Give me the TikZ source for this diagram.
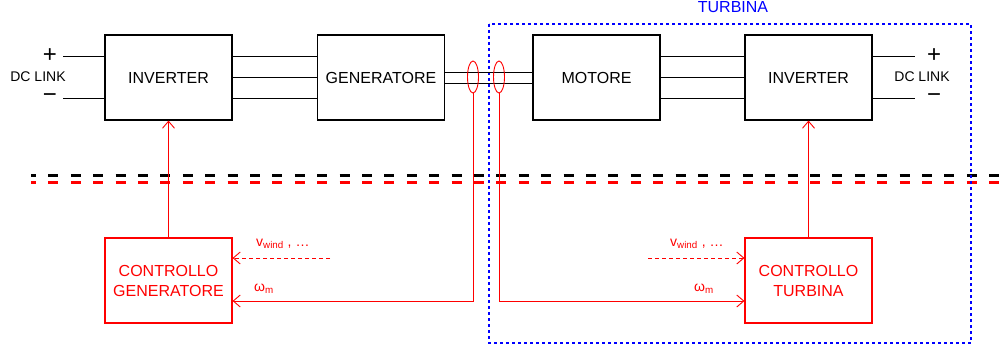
\documentclass[tikz,border=0pt]{standalone}
\usepackage{fontspec}
\setmainfont{Liberation Sans}
\usetikzlibrary{arrows.meta,calc}
\definecolor{pred}{RGB}{255,0,0}
\definecolor{pblue}{RGB}{0,0,255}
\tikzset{
  blk/.style={draw=black, line width=1.1pt, minimum width=127pt, minimum height=85pt, inner sep=0pt, font=\fontsize{16}{20}\selectfont, align=center},
  rblk/.style={blk, draw=pred, text=pred},
  wire/.style={draw=black, line width=0.9pt},
  rwire/.style={draw=pred, line width=0.9pt},
  rarrow/.style={rwire, -{Straight Barb[length=7pt,width=12pt,line width=0.9pt]}},
  rdash/.style={rarrow, dash pattern=on 4pt off 3pt},
  sep/.style={line width=3pt, dash pattern=on 10pt off 12.4pt, dash phase=5pt},
  lbl/.style={font=\fontsize{14}{16}\selectfont, inner sep=0pt},
  sgn/.style={font=\fontsize{24}{24}\selectfont, inner sep=0pt},
}
\begin{document}
\begin{tikzpicture}[x=1pt,y=-1pt]
\useasboundingbox (0,0) rectangle (1001,350);
% separators
\draw[sep, black] (31,175) -- (1001,175);
\draw[sep, pred] (31,182) -- (1001,182);
% turbine frame
\draw[pblue, line width=2pt, dash pattern=on 3pt off 3pt] (489,24) rectangle (971,343);
\node[text=pblue, font=\fontsize{16}{18}\selectfont, inner sep=0pt] (tt) at (733,7) {TURBINA};
% boxes
\node[blk] (inv1) at (168.5,77.5) {INVERTER};
\node[blk] (gen) at (381,77.5) {GENERATORE};
\node[blk] (mot) at (596.5,77.5) {MOTORE};
\node[blk] (inv2) at (808.5,77.5) {INVERTER};
\node[rblk] (cg) at (168.5,280.5) {CONTROLLO\\GENERATORE};
\node[rblk] (ct) at (808.5,280.5) {CONTROLLO\\TURBINA};
% DC link left
\coordinate (lp) at (63,56);
\coordinate (lm) at (63,98);
\draw[wire] (lp) -- (lp -| inv1.west);
\draw[wire] (lm) -- (lm -| inv1.west);
\node[sgn] (pl1) at (50,56) {+};
\node[sgn] (mi1) at (50,98) {\textminus};
\node[lbl] (dc1) at (38,77) {DC LINK};
% DC link right
\coordinate (rp) at (915,56);
\coordinate (rm) at (915,98);
\draw[wire] (rp -| inv2.east) -- (rp);
\draw[wire] (rm -| inv2.east) -- (rm);
\node[sgn] (pl2) at (934,56) {+};
\node[sgn] (mi2) at (934,98) {\textminus};
\node[lbl] (dc2) at (922,77) {DC LINK};
% three-phase lines
\foreach \yy in {56,77,98}{
  \draw[wire] (inv1.east |- 0,\yy) -- (gen.west |- 0,\yy);
  \draw[wire] (mot.east |- 0,\yy) -- (inv2.west |- 0,\yy);
}
% shaft
\draw[wire] (gen.east |- 0,72) -- (mot.west |- 0,72);
\draw[wire] (gen.east |- 0,83) -- (mot.west |- 0,83);
% encoders
\draw[rwire] (473,77) ellipse (5.5 and 16);
\draw[rwire] (499,77) ellipse (5.5 and 16);
\coordinate (e1) at (473,93);
\coordinate (e2) at (499,93);
\draw[rarrow] (e1) -- (473,301) -- (cg.east |- 0,301);
\draw[rarrow] (e2) -- (499,301) -- (ct.west |- 0,301);
\node[lbl, text=pred] (wm1) at (264,289) {ω\textsubscript{m}};
\node[lbl, text=pred] (wm2) at (704,289) {ω\textsubscript{m}};
% wind inputs
\coordinate (w1) at (330,258);
\coordinate (w2) at (648,258);
\draw[rdash] (w1) -- (cg.east |- w1);
\draw[rdash] (w2) -- (ct.west |- w2);
\node[lbl, text=pred, anchor=west] (vw1) at (256,244) {v\textsubscript{wind} , \dots};
\node[lbl, text=pred, anchor=west] (vw2) at (670,244) {v\textsubscript{wind} , \dots};
% control to inverters
\draw[rarrow] (cg.north) -- (inv1.south);
\draw[rarrow] (ct.north) -- (inv2.south);
\end{tikzpicture}
\end{document}
